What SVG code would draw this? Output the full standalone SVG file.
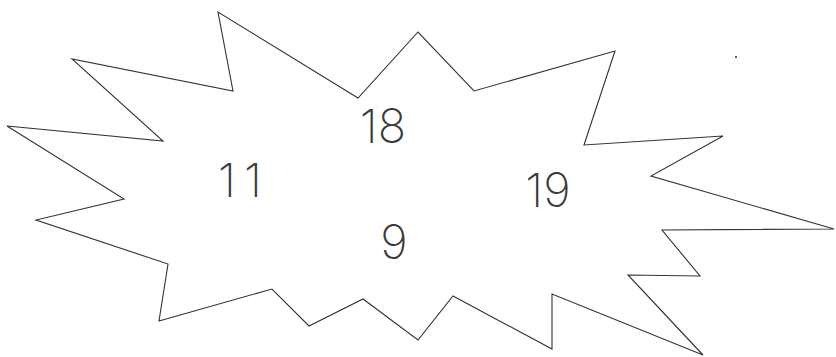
<svg xmlns="http://www.w3.org/2000/svg" width="836" height="357" viewBox="0 0 836 357">
<style>
.star{fill:#fff;stroke:#333;stroke-width:1.1;stroke-linejoin:miter}
.lbl{font-family:Inter,"Liberation Sans",Arial,sans-serif;font-size:47px;font-weight:200;fill:#3a3a3a;text-anchor:middle}
</style>
<rect width="836" height="357" fill="#fff"/>
<g id="burst">
<polygon class="star" points="7,126 124,199 36,220 168,264 159,321 272,289 309,326 363,299 418,340 453,296 552,349 552,294 703,355 628,275 700,276 662,230 834,229 651,176 723,136 584,145 615,51 474,91 418,32 358,98 218,12 233,91 72,59 163,141"/>
</g>
<g id="n18"><text class="lbl" x="383" y="143">18</text></g>
<g id="n11"><text class="lbl" x="244" y="197" letter-spacing="8">11</text></g>
<g id="n19"><text class="lbl" x="548" y="207">19</text></g>
<g id="n9"><text class="lbl" x="394" y="259">9</text></g>
<circle cx="736" cy="57" r="1" fill="#222"/>
</svg>
